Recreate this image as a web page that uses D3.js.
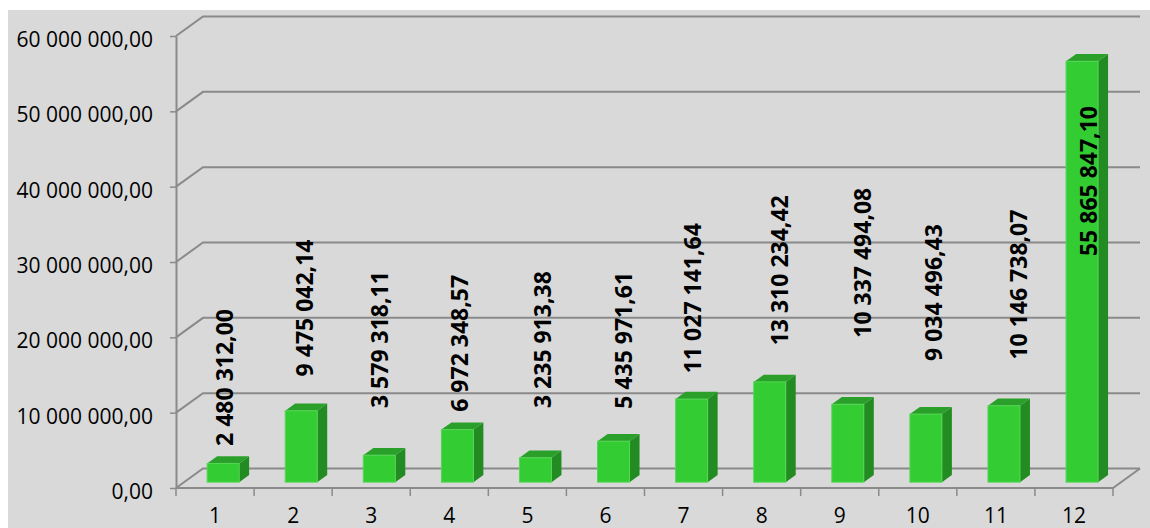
<!DOCTYPE html>
<html><head><meta charset="utf-8">
<script src="https://cdn.jsdelivr.net/npm/d3@7"></script>
<style>html,body{margin:0;padding:0;background:#fff;}svg{display:block;}</style>
</head><body>
<svg id="chart" width="1150" height="528"></svg>
<script>
// ---- data ----
const categories = ["1","2","3","4","5","6","7","8","9","10","11","12"];
const values = [2480312.00, 9475042.14, 3579318.11, 6972348.57, 3235913.38, 5435971.61,
                11027141.64, 13310234.42, 10337494.08, 9034496.43, 10146738.07, 55865847.10];
const yTicks = [0, 10000000, 20000000, 30000000, 40000000, 50000000, 60000000];
// label placement (centre value on y axis, x shift in px)
const labelCenter = [14.67e6, 23.9e6, 19.7e6, 19.2e6, 19.7e6, 19.6e6, 25.2e6, 28.9e6, 29.9e6, 25.95e6, 27.0e6, 40.75e6];
const labelShift = [9.5, 11.7, 9, 10, 15, 18.6, 9.5, 18, 23, 16, 23, 15];

// ---- layout ----
const plotL = 176, plotR = 1113, plotB = 488, plotT = 36;
const DX = 27, DY = -19.5;           // wall depth
const fr = 0.3, bk = 0.67;           // bar depth fractions
const barW = 32;
const gridColor = "#8a8a8a";

const loc = d3.formatLocale({decimal: ",", thousands: " ", grouping: [3], currency: ["", ""]});
const fmt = loc.format(",.2f");

const svg = d3.select("#chart");
svg.append("rect").attr("x", 8).attr("y", 10).attr("width", 1142).attr("height", 518).attr("fill", "#d9d9d9");

const x = d3.scaleBand().domain(categories).range([plotL, plotR]).padding(0);
const y = d3.scaleLinear().domain([0, 60000000]).range([plotB, plotT]);

// gridlines (back wall + floor)
const g = svg.append("g");
g.selectAll("path.grid").data(yTicks).join("path")
  .attr("class", "grid")
  .attr("d", v => `M${plotL},${y(v)}L${plotL + DX},${y(v) + DY}L${plotR + DX},${y(v) + DY}`)
  .attr("fill", "none").attr("stroke", gridColor).attr("stroke-width", 2);
g.append("path")
  .attr("d", `M${plotL},${plotB}L${plotR},${plotB}L${plotR + DX},${plotB + DY}`)
  .attr("fill", "none").attr("stroke", gridColor).attr("stroke-width", 2);

// y axis
const yAxis = d3.axisLeft(y).tickValues(yTicks).tickFormat(fmt).tickSize(6).tickSizeOuter(0).tickPadding(17);
const ya = svg.append("g").attr("transform", `translate(${plotL},0)`).call(yAxis);
ya.select(".domain").attr("stroke", gridColor).attr("stroke-width", 2);
ya.selectAll(".tick line").attr("stroke", gridColor).attr("stroke-width", 1.5);
ya.selectAll(".tick text").attr("font-family", "Open Sans").attr("font-size", 21).attr("fill", "#000").attr("dy", "0.5em");

// category ticks at band boundaries
const bounds = categories.map(c => x(c)).concat([plotR]);
svg.append("g").selectAll("line").data(bounds).join("line")
  .attr("x1", d => d).attr("x2", d => d).attr("y1", plotB).attr("y2", plotB + 8)
  .attr("stroke", gridColor).attr("stroke-width", 1.5);

// category labels
const xAxis = d3.axisBottom(x).tickSize(0).tickPadding(0);
const xa = svg.append("g").attr("transform", `translate(0,${plotB})`).call(xAxis);
xa.select(".domain").remove();
xa.selectAll(".tick text").attr("font-family", "Open Sans").attr("font-size", 21).attr("fill", "#000")
  .attr("y", 34.5).attr("dy", 0);

// bars
const bars = svg.append("g").selectAll("g.bar").data(values).join("g").attr("class", "bar");
const bx = (d, i) => x(categories[i]) + x.bandwidth() / 2 - barW / 2 + fr * DX;
const by0 = plotB + fr * DY;
const ddx = (bk - fr) * DX, ddy = (bk - fr) * DY;
bars.append("path").attr("fill", "#228b22")
  .attr("d", (d, i) => {
    const x0 = bx(d, i) + barW, yt = y(d) + fr * DY;
    return `M${x0},${yt}L${x0 + ddx},${yt + ddy}L${x0 + ddx},${by0 + ddy}L${x0},${by0}Z`;
  });
bars.append("path").attr("fill", "#2aa02a")
  .attr("d", (d, i) => {
    const x0 = bx(d, i), yt = y(d) + fr * DY;
    return `M${x0},${yt}L${x0 + barW},${yt}L${x0 + barW + ddx},${yt + ddy}L${x0 + ddx},${yt + ddy}Z`;
  });
bars.append("rect").attr("fill", "#33cc33").attr("stroke", "#55d655").attr("stroke-width", 1)
  .attr("x", (d, i) => bx(d, i)).attr("y", d => y(d) + fr * DY)
  .attr("width", barW).attr("height", d => by0 - (y(d) + fr * DY));

// data labels
svg.append("g").selectAll("text").data(values).join("text")
  .attr("transform", (d, i) => `translate(${x(categories[i]) + x.bandwidth() / 2 + labelShift[i]},${y(labelCenter[i])}) rotate(-90)`)
  .attr("text-anchor", "middle").attr("dy", "0.36em")
  .attr("font-family", "Open Sans").attr("font-weight", "bold").attr("font-size", 23).attr("fill", "#000")
  .text(d => fmt(d));
</script>
</body></html>
